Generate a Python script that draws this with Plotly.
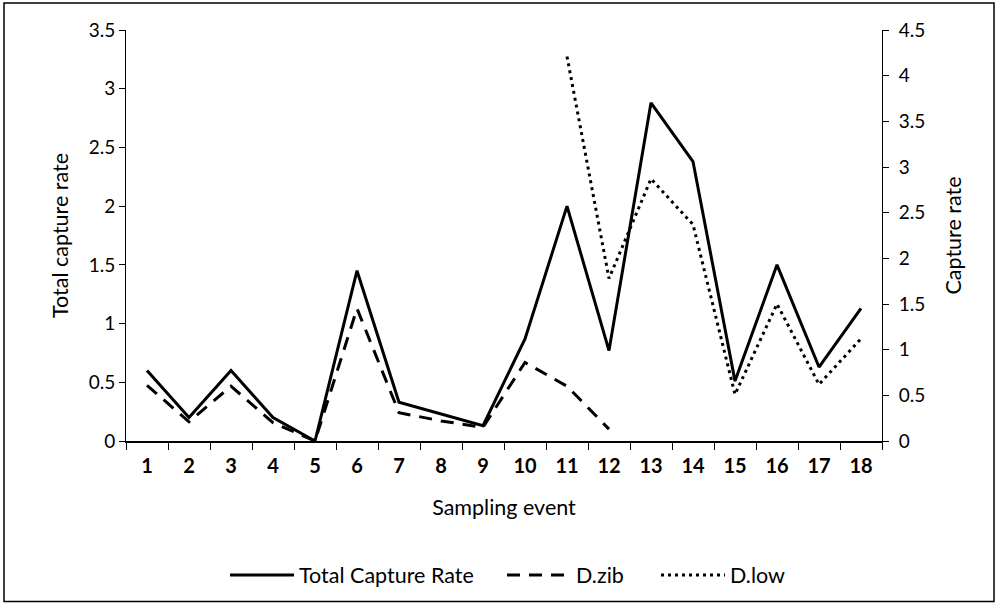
import plotly.graph_objects as go

events = [str(i) for i in range(1, 19)]
total_rate = [0.6, 0.2, 0.6, 0.2, 0.0, 1.45, 0.33, 0.23, 0.13, 0.87, 2.0, 0.77, 2.88, 2.38, 0.51, 1.5, 0.63, 1.13]
d_zib = [0.61, 0.21, 0.6, 0.2, 0.0, 1.45, 0.31, 0.22, 0.15, 0.86, 0.6, 0.13, None, None, None, None, None, None]
d_low = [None, None, None, None, None, None, None, None, None, None, 4.21, 1.78, 2.87, 2.37, 0.51, 1.5, 0.62, 1.12]

FONT = "Lato, sans-serif"
L, R, T, B, W, H = 126, 114, 30, 164, 996, 606
PW, PH = W - L - R, H - T - B


def px(x):
    return (x - L) / PW


def py(y):
    return (H - B - y) / PH


fig = go.Figure()
fig.add_trace(go.Scatter(x=events, y=total_rate, mode="lines", name="Total Capture Rate",
                         line=dict(color="black", width=3), legend="legend"))
fig.add_trace(go.Scatter(x=events, y=d_zib, mode="lines", name="D.zib", yaxis="y2",
                         line=dict(color="black", width=3, dash="13px,9px"), legend="legend2"))
fig.add_trace(go.Scatter(x=events, y=d_low, mode="lines", name="D.low", yaxis="y2",
                         line=dict(color="black", width=3, dash="3px,4px"), legend="legend3"))

leg_common = dict(orientation="h", xanchor="left", yanchor="middle", y=py(575),
                  font=dict(size=21.5, color="black"), itemwidth=64, bgcolor="rgba(0,0,0,0)")

fig.update_layout(
    width=W, height=H,
    margin=dict(l=L, r=R, t=T, b=B),
    paper_bgcolor="white", plot_bgcolor="white",
    font=dict(family=FONT, color="black", size=19),
    showlegend=True,
    legend=dict(x=px(225), **leg_common),
    legend2=dict(x=px(502), **leg_common),
    legend3=dict(x=px(656), **leg_common),
    xaxis=dict(type="category", range=[-0.5, 17.5], tickson="boundaries", ticks="outside",
               ticklen=7, tickcolor="black", showline=True, linecolor="black", linewidth=2,
               showgrid=False, ticklabelstandoff=6,
               tickfont=dict(size=20, family=FONT, weight="bold", color="black"),
               title=dict(text="Sampling event", font=dict(size=21.5, color="black"), standoff=24)),
    yaxis=dict(range=[0, 3.5], dtick=0.5, ticks="outside", ticklen=6, tickcolor="black",
               showline=True, linecolor="black", linewidth=1, showgrid=False, zeroline=False,
               tickfont=dict(size=19, color="black"),
               title=dict(text="Total capture rate", font=dict(size=21.5, color="black"), standoff=14)),
    yaxis2=dict(range=[0, 4.5], dtick=0.5, ticks="outside", ticklen=6, tickcolor="black",
                overlaying="y", side="right", showline=True, linecolor="black", linewidth=1,
                showgrid=False, zeroline=False, ticklabelstandoff=6,
                tickfont=dict(size=19, color="black"),
                title=dict(text="Capture rate", font=dict(size=21.5, color="black"), standoff=21)),
)

fig.add_shape(type="rect", xref="paper", yref="paper",
              x0=px(4), x1=px(994), y0=py(603), y1=py(3),
              line=dict(color="black", width=1.5), layer="below")

fig.write_html("out.html", config={"displayModeBar": False},
               post_script="document.body.style.margin='0';document.body.style.overflow='hidden';")
